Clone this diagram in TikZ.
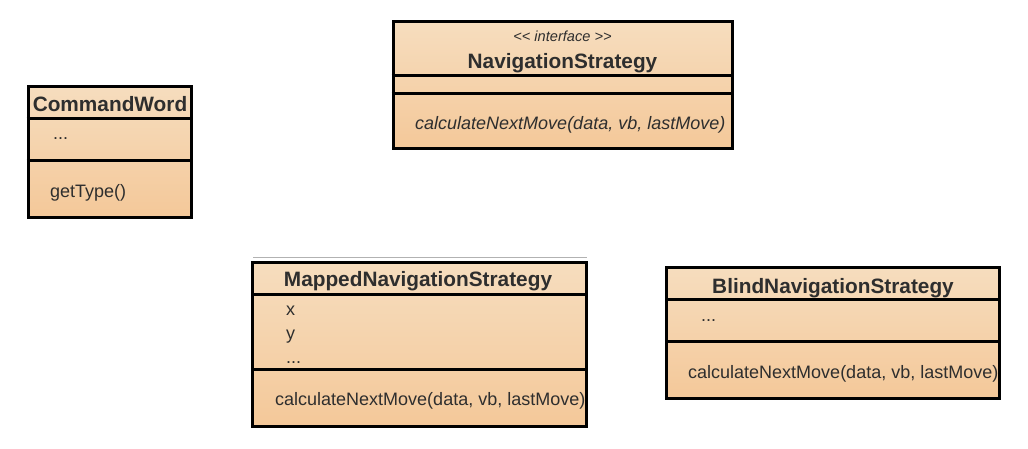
\documentclass[tikz,border=0pt]{standalone}
\usepackage{fontspec}
\setmainfont{Liberation Sans}
\usetikzlibrary{positioning,calc}
\definecolor{umltop}{HTML}{F6DDBE}
\definecolor{umlbot}{HTML}{F4C899}
\definecolor{umltext}{HTML}{2E2E2E}

\begin{document}
\begin{tikzpicture}[x=1pt, y=-1pt,
    umlbox/.style={draw=black, line width=3pt, top color=umltop, bottom color=umlbot, inner sep=0pt},
    sepline/.style={line width=3pt},
    classname/.style={anchor=base, inner sep=0pt, font=\fontsize{20.8}{24}\selectfont\bfseries, text=umltext},
    member/.style={anchor=base west, inner sep=0pt, font=\fontsize{18}{21}\selectfont, text=umltext}
]
    \useasboundingbox (0,0) rectangle (1028,449);

    % NavigationStrategy (interface, top)
    \node[umlbox, minimum width=339pt, minimum height=127pt] (nav) at (562.5,85.5) {};
    \node[anchor=base, inner sep=0pt, font=\fontsize{14.6}{17}\selectfont\itshape, text=umltext] (navstereo) at (562.5,41.7) {{<}{<} interface {>}{>}};
    \node[classname] (navname) at (562.5,69) {NavigationStrategy};
    \draw[sepline] (nav.west |- 0,75.5) -- (nav.east |- 0,75.5);
    \draw[sepline] (nav.west |- 0,93.3) -- (nav.east |- 0,93.3);
    \node[member, font=\fontsize{18}{21}\selectfont\itshape] (navmove) at (415,130) {calculateNextMove(data, vb, lastMove)};

    % CommandWord (left)
    \node[umlbox, minimum width=163pt, minimum height=131pt] (cmd) at (109.5,152) {};
    \node[classname] (cmdname) at (110,111.7) {CommandWord};
    \draw[sepline] (cmd.west |- 0,118.3) -- (cmd.east |- 0,118.3);
    \node[member] (cmddots) at (53,140) {...};
    \draw[sepline] (cmd.west |- 0,160.5) -- (cmd.east |- 0,160.5);
    \node[member] (cmdtype) at (50,198) {getType()};

    % MappedNavigationStrategy (bottom middle)
    \draw[gray!60, line width=1.5pt] (253,257.5) -- (587,257.5);
    \node[umlbox, minimum width=334pt, minimum height=164pt] (mapped) at (419.7,344.7) {};
    \node[classname] (mappedname) at (418,286.7) {MappedNavigationStrategy};
    \draw[sepline] (mapped.west |- 0,294) -- (mapped.east |- 0,294);
    \node[member] (mappedx) at (286,315.7) {x};
    \node[member] (mappedy) at (286,339.5) {y};
    \node[member] (mappeddots) at (286,363) {...};
    \draw[sepline] (mapped.west |- 0,369.5) -- (mapped.east |- 0,369.5);
    \node[member] (mappedmove) at (275,405.7) {calculateNextMove(data, vb, lastMove)};

    % BlindNavigationStrategy (bottom right)
    \node[umlbox, minimum width=333pt, minimum height=131pt] (blind) at (833.3,332.8) {};
    \node[classname] (blindname) at (833,293.3) {BlindNavigationStrategy};
    \draw[sepline] (blind.west |- 0,299.5) -- (blind.east |- 0,299.5);
    \node[member] (blinddots) at (701,321.7) {...};
    \draw[sepline] (blind.west |- 0,341) -- (blind.east |- 0,341);
    \node[member] (blindmove) at (688,378.3) {calculateNextMove(data, vb, lastMove)};

\end{tikzpicture}
\end{document}
